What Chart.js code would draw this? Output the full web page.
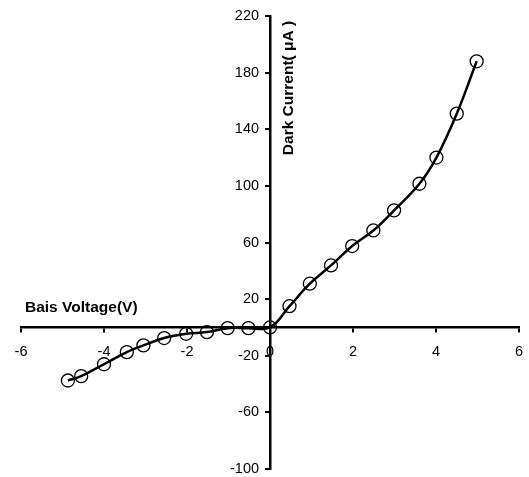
<!DOCTYPE html>
<html>
<head>
<meta charset="utf-8">
<script src="https://cdn.jsdelivr.net/npm/chart.js@4.4.0/dist/chart.umd.min.js"></script>
<style>
  html, body { margin: 0; padding: 0; background: #fff; overflow: hidden; }
  #wrap { width: 529px; height: 477px; position: relative; }
  canvas { display: block; }
</style>
</head>
<body>
<div id="wrap"><canvas id="chart"></canvas></div>
<script>
// Bias voltage (V) and dark current (uA)
const voltage = [-4.87, -4.55, -4.0, -3.45, -3.05, -2.55, -2.02, -1.52, -1.02, -0.52, 0,
                 0.47, 0.96, 1.47, 1.98, 2.49, 2.99, 3.6, 4.01, 4.5, 4.98];
const current = [-37.5, -34.4, -26, -17.4, -12.7, -7.5, -4.5, -3.3, -0.5, -0.5, 0,
                 15, 30.9, 43.8, 57.5, 68.5, 82.7, 101.5, 120, 151, 188];
const xTitle = "Bais Voltage(V)";
const yTitle = "Dark Current( μA )";

const points = voltage.map((v, i) => ({ x: v, y: current[i] }));

// axis titles sit next to the crossing axes, not at the chart edge
const axisTitles = {
    id: "axisTitles",
    afterDraw(chart) {
        const ctx = chart.ctx;
        const xs = chart.scales.x;
        const ys = chart.scales.y;
        ctx.save();
        ctx.fillStyle = "#000";
        ctx.font = "bold 15.5px 'Liberation Sans', Arial, sans-serif";
        ctx.textAlign = "left";
        ctx.textBaseline = "middle";
        ctx.fillText(xTitle, xs.left + 4, ys.getPixelForValue(0) - 20);

        ctx.translate(xs.getPixelForValue(0) + 19, ys.top + 72);
        ctx.rotate(-Math.PI / 2);
        ctx.textAlign = "center";
        ctx.fillText(yTitle, 0, 0);
        ctx.restore();
    }
};

// label overflow would otherwise shrink the plot area on the right/bottom
const noLabelPadding = (s) => {
    s.paddingLeft = 0;
    s.paddingRight = 0;
    s.paddingTop = 0;
    s.paddingBottom = 0;
};

const tickFont = { family: "'Liberation Sans', Arial, sans-serif", size: 14.5 };

new Chart(document.getElementById("chart"), {
    type: "scatter",
    data: {
        datasets: [{
            data: points,
            showLine: true,
            tension: 0.4,
            borderColor: "#000",
            borderWidth: 2.5,
            pointStyle: "circle",
            pointRadius: 6.5,
            pointBorderWidth: 1.3,
            pointBackgroundColor: "rgba(0,0,0,0)",
            pointBorderColor: "#000"
        }]
    },
    options: {
        responsive: true,
        maintainAspectRatio: false,
        animation: false,
        layout: { autoPadding: false, padding: { left: 21, right: 10, top: 16, bottom: 8 } },
        plugins: { legend: { display: false }, tooltip: { enabled: false } },
        scales: {
            x: {
                type: "linear",
                min: -6,
                max: 6,
                position: { y: 0 },
                afterFit: noLabelPadding,
                grid: { drawOnChartArea: false, drawTicks: true, tickLength: 4, color: "#000", lineWidth: 2 },
                border: { color: "#000", width: 2.5 },
                ticks: { stepSize: 2, color: "#000", font: tickFont, padding: 12, maxRotation: 0 }
            },
            y: {
                type: "linear",
                min: -100,
                max: 220,
                position: { x: 0 },
                afterFit: noLabelPadding,
                grid: { drawOnChartArea: false, drawTicks: true, tickLength: 4, color: "#000", lineWidth: 2 },
                border: { color: "#000", width: 2.5 },
                // labels of a value-positioned axis ignore padding, so pad with spaces
                ticks: { stepSize: 40, color: "#000", font: tickFont, callback: (v) => v + "  \u2009" }
            }
        }
    },
    plugins: [axisTitles]
});
</script>
</body>
</html>
